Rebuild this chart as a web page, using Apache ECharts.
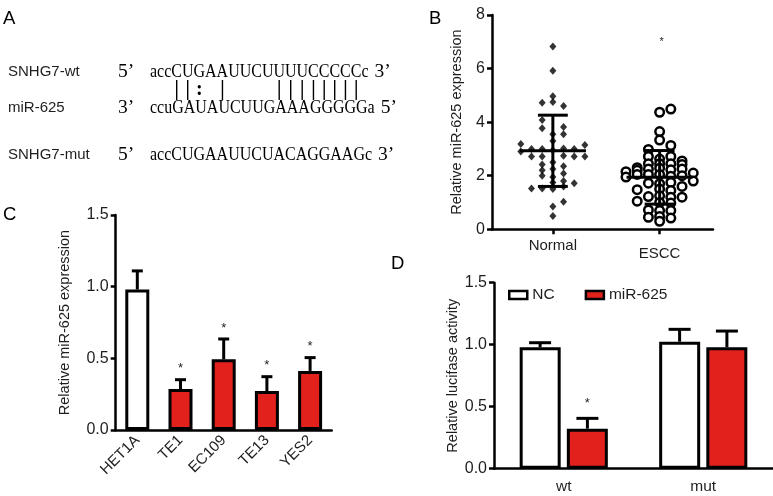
<!DOCTYPE html>
<html><head><meta charset="utf-8">
<script src="https://cdn.jsdelivr.net/npm/echarts@6/dist/echarts.min.js"></script>
<style>html,body{margin:0;padding:0;background:#fff}#c{width:773px;height:496px}</style>
</head><body><div id="c"></div>
<script>
// ---------- Panel A: sequences ----------
const seqLabels = ['SNHG7-wt', 'miR-625', 'SNHG7-mut'];
const seqLeftEnds = ['5\u2019', '3\u2019', '5\u2019'];
const seqStrings = ['accCUGAAUUCUUUUCCCCCc', 'ccuGAUAUCUUGAAAGGGGGa', 'accCUGAAUUCUACAGGAAGc'];
const seqRightEnds = ['3\u2019', '5\u2019', '3\u2019'];
const pairMarks = '   ||: |    ||||||||  ';

// ---------- Panel B: scatter ----------
const bCategories = ['Normal', 'ESCC'];
const bTicks = [0, 2, 4, 6, 8];
const normalCols = [0,0,0,-1,0,1,-1,-1,1,0,1,0,-3,3,-2,-1,1,2,-3,0,-2,-1,1,2,3,0,-1,1,-1,0,1,-1,0,0,1,2,-2,-1,0,1,1,0,0];
const normalVals = [6.82,5.92,4.97,4.72,4.75,4.6,4.08,3.77,3.82,3.55,3.55,3.3,3.18,3.15,3.0,3.0,3.02,3.0,2.9,2.95,2.72,2.72,2.75,2.72,2.72,2.5,2.42,2.35,2.2,2.25,2.08,2.0,1.95,1.75,1.8,1.72,1.52,1.52,1.5,1.6,1.03,0.85,0.5];
const esccCols = [0,1,0,0,1,-1,-1,0,1,2,-2,-1,0,1,2,-3,-2,-1,0,1,2,3,-3,-2,-1,0,1,2,3,-1,0,1,2,-2,0,1,-1,0,1,2,-2,0,1,-1,0,1,-1,0,1,0];
const esccVals = [4.37,4.49,3.65,3.33,3.13,2.98,2.72,2.62,2.72,2.55,2.3,2.45,2.45,2.45,2.42,2.15,2.2,2.25,2.28,2.22,2.25,2.1,1.95,2.05,2.05,2.05,1.98,2.0,1.8,1.72,1.7,1.75,1.6,1.48,1.5,1.45,1.22,1.25,1.2,1.2,1.05,1.0,0.98,0.72,0.7,0.7,0.45,0.48,0.42,0.3];
const bMeans = [2.93, 1.94];
const bSDs = [1.33, 1.0];
const bStarValue = 7.0;

// ---------- Panel C: bars ----------
const cCategories = ['HET1A', 'TE1', 'EC109', 'TE13', 'YES2'];
const cValues = [0.98, 0.286, 0.493, 0.272, 0.412];
const cErrors = [0.13, 0.065, 0.142, 0.1, 0.093];
const cSignificant = [false, true, true, true, true];
const cTicks = [0, 0.5, 1.0, 1.5];

// ---------- Panel D: grouped bars ----------
const dCategories = ['wt', 'mut'];
const dSeriesNames = ['NC', 'miR-625'];
const dNC = [0.979, 1.024];
const dNCErr = [0.037, 0.10];
const dMiR = [0.323, 0.979];
const dMiRErr = [0.083, 0.131];
const dMiRSignificant = [true, false];

// ---------- styles ----------
const RED = '#e2211c';
const FONT = '"Liberation Sans", Arial, sans-serif';
const SERIF = '"Liberation Serif", "Times New Roman", serif';
const TXT = '#1e1e1e';
const COL_STEP = 0.1;
const TICK_FS = 16;

const chart = echarts.init(document.getElementById('c'), null, {renderer: 'canvas'});

function yAxisBase(gridIndex, min, max, interval, name, nameGap, fmt) {
  return {
    type: 'value', gridIndex, min, max, interval,
    name, nameLocation: 'middle', nameGap,
    nameTextStyle: {fontSize: 14.5, color: TXT, fontFamily: FONT},
    axisLine: {show: true, lineStyle: {color: '#000', width: 2.5}},
    axisTick: {show: true, inside: false, length: 5, lineStyle: {color: '#000', width: 2.5}},
    axisLabel: {fontSize: TICK_FS, color: TXT, fontFamily: FONT, margin: 7, formatter: fmt},
    splitLine: {show: false}
  };
}

function errRenderer(offsetPx, capHalf, sig, starGap) {
  return function (params, api) {
    const i = api.value(0), v = api.value(1), e = api.value(2);
    const p0 = api.coord([i, v]);
    const p1 = api.coord([i, v + e]);
    const x = p0[0] + offsetPx;
    const ls = {stroke: '#000', lineWidth: 3};
    const children = [
      {type: 'line', shape: {x1: x, y1: p0[1], x2: x, y2: p1[1]}, style: ls},
      {type: 'line', shape: {x1: x - capHalf, y1: p1[1], x2: x + capHalf, y2: p1[1]}, style: ls}
    ];
    if (sig && sig[params.dataIndex]) {
      children.push({type: 'text', x: x, y: p1[1] - starGap,
        style: {text: '*', fontSize: 13, fontFamily: FONT, fill: TXT, align: 'center', verticalAlign: 'middle'}});
    }
    return {type: 'group', children};
  };
}

// ---- Panel A graphics ----
const graphics = [];
const letter = (t, x, y) => ({type: 'text', x, y, style: {text: t, fontSize: 18.5, fontFamily: FONT, fill: '#000', verticalAlign: 'middle'}});
graphics.push(letter('A', 3, 18.5), letter('B', 429, 18.5), letter('C', 3, 215), letter('D', 391, 263.5));

const mctx = document.createElement('canvas').getContext('2d');
const SEQ_FONT_SIZE = 19.5;
mctx.font = SEQ_FONT_SIZE + 'px ' + SERIF;
const SEQ_X = 150, SEQ_SCALE = 0.82;
const rowY = [72, 108, 155];
seqLabels.forEach((lab, r) => {
  graphics.push({type: 'text', x: 8, y: rowY[r], style: {text: lab, fontSize: 15, fontFamily: FONT, fill: TXT, verticalAlign: 'middle'}});
  graphics.push({type: 'text', x: 118, y: rowY[r], style: {text: seqLeftEnds[r], fontSize: SEQ_FONT_SIZE, fontFamily: SERIF, fill: '#000', verticalAlign: 'middle'}});
  graphics.push({type: 'text', x: SEQ_X, y: rowY[r], scaleX: SEQ_SCALE, style: {text: seqStrings[r], fontSize: SEQ_FONT_SIZE, fontFamily: SERIF, fill: '#000', verticalAlign: 'middle'}});
  const w = mctx.measureText(seqStrings[r]).width * SEQ_SCALE;
  graphics.push({type: 'text', x: SEQ_X + w + 6, y: rowY[r], style: {text: seqRightEnds[r], fontSize: SEQ_FONT_SIZE, fontFamily: SERIF, fill: '#000', verticalAlign: 'middle'}});
});
// pairing marks centred on characters of the wt sequence
for (let k = 0; k < pairMarks.length; k++) {
  const ch = pairMarks[k];
  if (ch === ' ') continue;
  const pre = mctx.measureText(seqStrings[0].slice(0, k)).width;
  const cw = mctx.measureText(seqStrings[0][k]).width;
  const cx = SEQ_X + (pre + cw / 2) * SEQ_SCALE;
  graphics.push({type: 'text', x: cx, y: 90, style: {text: ch, fontSize: 20, fontWeight: 'bold', fontFamily: SERIF, fill: '#000', align: 'center', verticalAlign: 'middle'}});
}

const option = {
  animation: false,
  backgroundColor: '#fff',
  textStyle: {fontFamily: FONT},
  graphic: graphics,
  legend: {
    data: dSeriesNames, left: 503, top: 282, itemWidth: 18, itemHeight: 8, itemGap: 30,
    icon: 'rect', textStyle: {fontSize: 15.5, color: TXT, fontFamily: FONT},
    itemStyle: {borderColor: '#000', borderWidth: 2.5}
  },
  grid: [
    {left: 492, top: 15, width: 221, height: 214.3},
    {left: 115.7, top: 215, width: 216, height: 215},
    {left: 494, top: 282.7, width: 287, height: 186}
  ],
  xAxis: [
    {type: 'value', gridIndex: 0, min: 0.43, max: 2.5,
      axisLine: {show: true, lineStyle: {color: '#000', width: 2.5}},
      axisTick: {show: true, customValues: [1, 2], length: 5, lineStyle: {color: '#000', width: 2.5}},
      axisLabel: {customValues: [1, 2], margin: 9, fontSize: 15, color: TXT, fontFamily: FONT,
        formatter: v => (v === 1 ? '{a|' : '{b|') + bCategories[Math.round(v) - 1] + '}',
        rich: {a: {fontSize: 15, color: TXT, fontFamily: FONT}, b: {fontSize: 15, color: TXT, fontFamily: FONT, padding: [8, 0, 0, 0]}}},
      splitLine: {show: false}},
    {type: 'category', gridIndex: 1, data: cCategories,
      axisLine: {show: true, lineStyle: {color: '#000', width: 2.5}},
      axisTick: {show: false},
      axisLabel: {interval: 0, rotate: 45, margin: 8, fontSize: 15, color: TXT, fontFamily: FONT, padding: [0, 0, 0, 8]}},
    {type: 'category', gridIndex: 2, data: dCategories,
      axisLine: {show: true, lineStyle: {color: '#000', width: 2.5}},
      axisTick: {show: false},
      axisLabel: {margin: 10, fontSize: 15.5, color: TXT, fontFamily: FONT}}
  ],
  yAxis: [
    yAxisBase(0, bTicks[0], bTicks[bTicks.length - 1], 2, 'Relative miR-625 expression', 28, v => String(v)),
    yAxisBase(1, cTicks[0], cTicks[cTicks.length - 1], 0.5, 'Relative miR-625 expression', 43, v => v.toFixed(1)),
    yAxisBase(2, 0, 1.5, 0.5, 'Relative lucifase activity', 31, v => v.toFixed(1))
  ],
  series: [
    {type: 'scatter', xAxisIndex: 0, yAxisIndex: 0, symbol: 'diamond', symbolSize: [7, 8],
      itemStyle: {color: '#000'},
      data: normalVals.map((v, i) => [1 + normalCols[i] * COL_STEP, v])},
    {type: 'scatter', xAxisIndex: 0, yAxisIndex: 0, symbol: 'circle', symbolSize: 8.5,
      itemStyle: {color: '#fff', borderColor: '#000', borderWidth: 2.5, opacity: 1},
      data: esccVals.map((v, i) => [2 + esccCols[i] * 0.105, v])},
    {type: 'custom', xAxisIndex: 0, yAxisIndex: 0, z: 5,
      data: bMeans.map((m, i) => [i + 1, m, bSDs[i]]),
      renderItem: (params, api) => {
        const x = api.value(0), m = api.value(1), s = api.value(2);
        const ls = {stroke: '#000', lineWidth: 3};
        const c = (a, b) => api.coord([a, b]);
        const seg = (p, q) => ({type: 'line', shape: {x1: p[0], y1: p[1], x2: q[0], y2: q[1]}, style: ls});
        return {type: 'group', children: [
          seg(c(x, m - s), c(x, m + s)),
          seg(c(x - 0.31, m), c(x + 0.31, m)),
          seg(c(x - 0.14, m + s), c(x + 0.14, m + s)),
          seg(c(x - 0.14, m - s), c(x + 0.14, m - s))
        ]};
      }},
    {type: 'custom', xAxisIndex: 0, yAxisIndex: 0,
      data: [[2, bStarValue]],
      renderItem: (params, api) => {
        const p = api.coord([api.value(0), api.value(1)]);
        return {type: 'text', x: p[0] + 2, y: p[1], style: {text: '*', fontSize: 11, fontFamily: FONT, fill: TXT, align: 'center', verticalAlign: 'middle'}};
      }},
    {type: 'bar', xAxisIndex: 1, yAxisIndex: 1, barWidth: 24,
      itemStyle: {borderColor: '#000', borderWidth: 3},
      data: cValues.map((v, i) => ({value: v, itemStyle: {color: i === 0 ? '#fff' : RED}}))},
    {type: 'custom', xAxisIndex: 1, yAxisIndex: 1, z: 1,
      data: cValues.map((v, i) => [i, v, cErrors[i]]),
      renderItem: errRenderer(0, 5.5, cSignificant, 11)},
    {type: 'bar', name: dSeriesNames[0], xAxisIndex: 2, yAxisIndex: 2, barWidth: 41, barGap: '15%',
      itemStyle: {color: '#fff', borderColor: '#000', borderWidth: 3}, data: dNC},
    {type: 'bar', name: dSeriesNames[1], xAxisIndex: 2, yAxisIndex: 2, barWidth: 41, barGap: '15%',
      itemStyle: {color: RED, borderColor: '#000', borderWidth: 3}, data: dMiR},
    {type: 'custom', xAxisIndex: 2, yAxisIndex: 2, z: 1,
      data: dNC.map((v, i) => [i, v, dNCErr[i]]),
      renderItem: errRenderer(-23.65, 11, null, 0)},
    {type: 'custom', xAxisIndex: 2, yAxisIndex: 2, z: 1,
      data: dMiR.map((v, i) => [i, v, dMiRErr[i]]),
      renderItem: errRenderer(23.65, 11, dMiRSignificant, 15)}
  ]
};
chart.setOption(option);
</script>
</body></html>
